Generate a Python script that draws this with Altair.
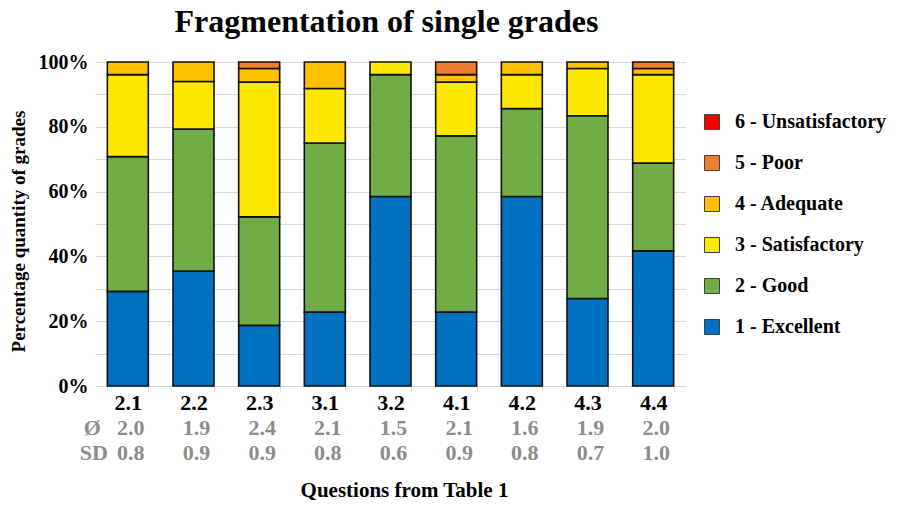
import altair as alt
import pandas as pd

questions = ["2.1", "2.2", "2.3", "3.1", "3.2", "4.1", "4.2", "4.3", "4.4"]
means = ["2.0", "1.9", "2.4", "2.1", "1.5", "2.1", "1.6", "1.9", "2.0"]
sds = ["0.8", "0.9", "0.9", "0.8", "0.6", "0.9", "0.8", "0.7", "1.0"]

grades = ["1 - Excellent", "2 - Good", "3 - Satisfactory", "4 - Adequate", "5 - Poor", "6 - Unsatisfactory"]
colors = ["#0070C0", "#70AD47", "#FFE800", "#FFC000", "#ED7D31", "#FF0000"]

excellent = [29.2, 35.5, 18.7, 22.8, 58.5, 22.8, 58.5, 27.0, 41.7]
good = [41.6, 43.8, 33.5, 52.2, 37.6, 54.4, 27.1, 56.4, 27.1]
satisfactory = [25.3, 14.7, 41.6, 16.8, 3.9, 16.6, 10.5, 14.6, 27.3]
adequate = [3.9, 6.0, 4.2, 8.2, 0.0, 2.3, 3.9, 2.0, 1.9]
poor = [0.0, 0.0, 2.0, 0.0, 0.0, 3.9, 0.0, 0.0, 2.0]
unsatisfactory = [0.0, 0.0, 0.0, 0.0, 0.0, 0.0, 0.0, 0.0, 0.0]

series = [excellent, good, satisfactory, adequate, poor, unsatisfactory]

rows = []
for gi, (g, vals) in enumerate(zip(grades, series)):
    for q, v in zip(questions, vals):
        if v > 0:
            rows.append({"question": q, "grade": g, "rank": gi + 1, "pct": v})
df = pd.DataFrame(rows)
stats = pd.DataFrame({"question": questions, "mean": means, "sd": sds})

W, H = 591, 324
FONT = "Liberation Serif"
GRAY = "#8c8c8c"

xenc = alt.X(
    "question:N", sort=questions, title="Questions from Table 1",
    scale=alt.Scale(paddingInner=0.376, paddingOuter=0.188),
    axis=alt.Axis(
        labelAngle=0, labelFontSize=22, labelFont=FONT, labelFontWeight="bold",
        labelColor="black", tickBand="extent", tickSize=5, tickColor="#d9d9d9",
        domainColor="#d9d9d9", labelPadding=1,
        titleFontSize=21, titleFont=FONT, titleFontWeight="bold", titleColor="black",
        titleX=309, titleY=110, titleBaseline="alphabetic",
    ),
)

bars = alt.Chart(df).mark_bar(stroke="#111111", strokeWidth=1.6).encode(
    x=xenc,
    y=alt.Y(
        "pct:Q", stack="zero", scale=alt.Scale(domain=[0, 100], nice=False),
        axis=alt.Axis(
            values=list(range(0, 101, 10)),
            labelExpr="datum.value % 20 == 0 ? datum.value + '%' : ''",
            grid=True, gridColor="#d9d9d9", domain=False, ticks=False, labelPadding=7,
            labelFont=FONT, labelFontSize=20, labelFontWeight="bold", labelColor="black",
            title="Percentage quantity of grades", titleFont=FONT, titleFontSize=19,
            titleFontWeight="bold", titleColor="black", titleX=-77, titleY=169,
            titleBaseline="middle",
        ),
    ),
    color=alt.Color(
        "grade:N",
        scale=alt.Scale(domain=grades[::-1], range=colors[::-1]),
        legend=alt.Legend(
            title=None, orient="none", legendX=607, legendY=50,
            symbolType="square", symbolSize=225, symbolStrokeColor="#404040",
            symbolStrokeWidth=1, symbolOpacity=1,
            labelFont=FONT, labelFontSize=20, labelFontWeight="bold", labelColor="black",
            labelOffset=13, rowPadding=21, padding=0,
        ),
    ),
    order=alt.Order("rank:Q", sort="ascending"),
)

mean_text = alt.Chart(stats).mark_text(
    font=FONT, fontSize=22, fontWeight="bold", color=GRAY, baseline="middle", dx=3
).encode(x=alt.X("question:N", sort=questions), y=alt.value(366), text="mean:N")

sd_text = alt.Chart(stats).mark_text(
    font=FONT, fontSize=22, fontWeight="bold", color=GRAY, baseline="middle", dx=3
).encode(x=alt.X("question:N", sort=questions), y=alt.value(391), text="sd:N")

mean_lab = alt.Chart(pd.DataFrame({"question": [questions[0]], "t": ["Ø"]})).mark_text(
    font=FONT, fontSize=22, fontWeight="bold", color=GRAY, baseline="middle", align="right", dx=-27
).encode(x=alt.X("question:N", sort=questions), y=alt.value(366), text="t:N")

sd_lab = alt.Chart(pd.DataFrame({"question": [questions[0]], "t": ["SD"]})).mark_text(
    font=FONT, fontSize=22, fontWeight="bold", color=GRAY, baseline="middle", align="right", dx=-20
).encode(x=alt.X("question:N", sort=questions), y=alt.value(391), text="t:N")

chart = alt.layer(bars, mean_text, sd_text, mean_lab, sd_lab).properties(
    width=W, height=H,
    title=alt.TitleParams(
        "Fragmentation of single grades", font=FONT, fontSize=32, fontWeight="bold",
        color="black", anchor="middle", dx=-4, offset=13,
    ),
    autosize=alt.AutoSizeParams(type="none"),
    padding={"left": 87, "top": 54, "right": 204, "bottom": 115},
).configure_view(strokeWidth=0)

chart.save("out.html", embed_options={"renderer": "svg", "actions": False})
